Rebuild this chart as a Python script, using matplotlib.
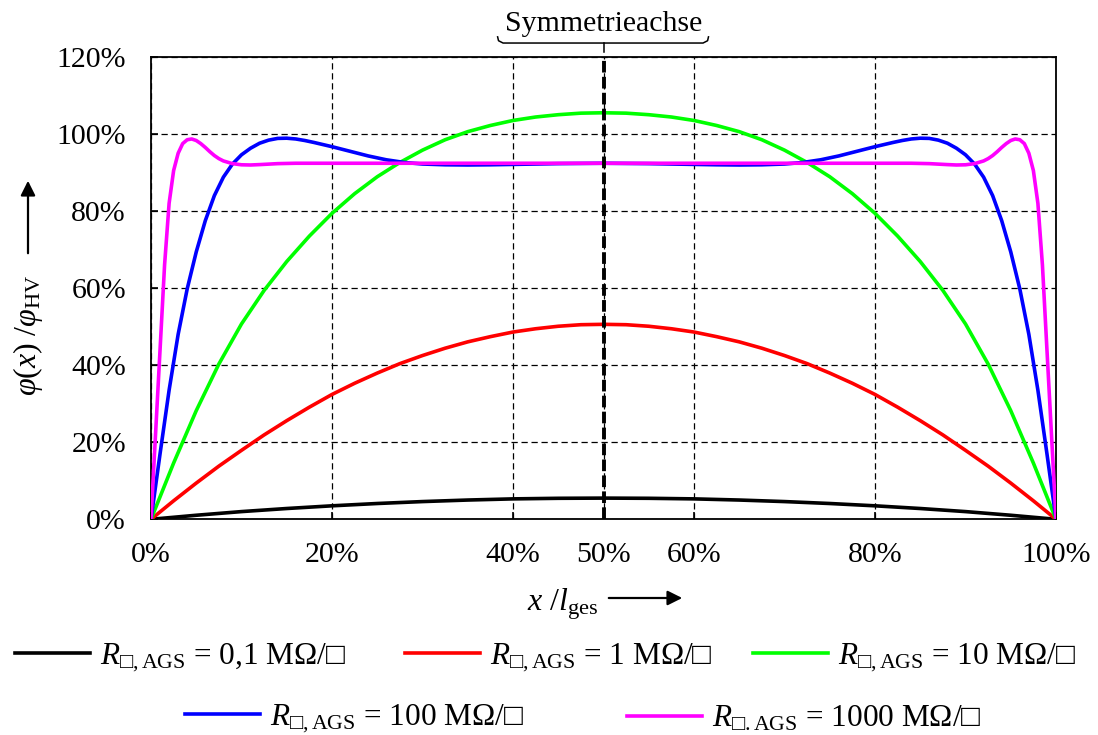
import numpy as np
import matplotlib
matplotlib.use('Agg')
import matplotlib.pyplot as plt

plt.rcParams['font.family'] = ['Liberation Serif', 'DejaVu Sans']
plt.rcParams['mathtext.fontset'] = 'custom'
plt.rcParams['mathtext.rm'] = 'Liberation Serif'
plt.rcParams['mathtext.it'] = 'Liberation Serif:italic'
plt.rcParams['mathtext.bf'] = 'Liberation Serif:bold'
plt.rcParams['mathtext.fallback'] = 'stix'

# Werte (x in %, phi/phi_HV in %)
x_black = [0, 5, 10, 15, 20, 25, 30, 35, 40, 45, 50,
           55, 60, 65, 70, 75, 80, 85, 90, 95, 100]
y_black = [0, 1.05, 2.0, 2.8, 3.5, 4.1, 4.6, 5.0, 5.3, 5.45, 5.5,
           5.45, 5.3, 5.0, 4.6, 4.1, 3.5, 2.8, 2.0, 1.05, 0]

x_red = [0, 2.5, 5, 7.5, 10, 12.5, 15, 17.5, 20, 22.5, 25, 27.5, 30, 32.5, 35, 37.5, 40, 42.5, 45, 47.5, 50,
         52.5, 55, 57.5, 60, 62.5, 65, 67.5, 70, 72.5, 75, 77.5, 80, 82.5, 85, 87.5, 90, 92.5, 95, 97.5, 100]
y_red = [0, 4.8, 9.4, 13.8, 17.9, 21.9, 25.6, 29.1, 32.4, 35.3, 37.95, 40.4, 42.5, 44.4, 46.05, 47.4, 48.6, 49.45, 50.1, 50.5, 50.6,
         50.5, 50.1, 49.45, 48.6, 47.4, 46.05, 44.4, 42.5, 40.4, 37.95, 35.3, 32.4, 29.1, 25.6, 21.9, 17.9, 13.8, 9.4, 4.8, 0]

x_green = x_red
y_green = [0, 14.6, 28.2, 40.3, 50.7, 59.4, 66.9, 73.5, 79.4, 84.5, 88.9, 92.6, 95.8, 98.5, 100.6, 102.2, 103.5, 104.4, 105.0, 105.4, 105.5,
           105.4, 105.0, 104.4, 103.5, 102.2, 100.6, 98.5, 95.8, 92.6, 88.9, 84.5, 79.4, 73.5, 66.9, 59.4, 50.7, 40.3, 28.2, 14.6, 0]

x_blue = [0, 1, 2, 3, 4, 5, 6, 7, 8, 9, 10, 11, 12, 13, 14, 15, 16, 17, 18, 20, 22, 24, 26, 28, 30,
          32.5, 35, 37.5, 40, 42.5, 45, 47.5, 50, 52.5, 55, 57.5, 60, 62.5, 65, 67.5,
          70, 72, 74, 76, 78, 80, 82, 83, 84, 85, 86, 87, 88, 89, 90, 91, 92, 93, 94, 95, 96, 97, 98, 99, 100]
y_blue = [0, 17.0, 33.5, 48.0, 59.8, 69.4, 77.5, 84.0, 88.8, 92.2, 94.6, 96.3, 97.6, 98.4, 98.85, 98.9, 98.7, 98.3, 97.8, 96.7, 95.5, 94.3, 93.3, 92.6, 92.2,
          92.0, 91.95, 92.0, 92.1, 92.2, 92.3, 92.35, 92.4, 92.35, 92.3, 92.2, 92.1, 92.0, 91.95, 92.0,
          92.2, 92.6, 93.3, 94.3, 95.5, 96.7, 97.8, 98.3, 98.7, 98.9, 98.85, 98.4, 97.6, 96.3, 94.6, 92.2, 88.8, 84.0, 77.5, 69.4, 59.8, 48.0, 33.5, 17.0, 0]

x_mag = [0, 0.5, 1, 1.5, 2, 2.5, 3, 3.5, 4, 4.5, 5, 5.5, 6, 6.5, 7, 7.5, 8, 9, 10, 11, 12, 14, 16, 20,
         30, 40, 50, 60, 70, 80, 84, 86, 88, 89, 90, 91, 92, 92.5, 93, 93.5, 94, 94.5, 95, 95.5,
         96, 96.5, 97, 97.5, 98, 98.5, 99, 99.5, 100]
y_mag = [0, 22.0, 44.0, 66.0, 82.0, 90.5, 95.0, 97.5, 98.5, 98.7, 98.3, 97.5, 96.5, 95.4, 94.4, 93.6, 93.0, 92.3, 92.0, 91.95, 92.05, 92.3, 92.4, 92.4,
         92.4, 92.4, 92.4, 92.4, 92.4, 92.4, 92.4, 92.3, 92.05, 91.95, 92.0, 92.3, 93.0, 93.6, 94.4, 95.4, 96.5, 97.5, 98.3, 98.7,
         98.5, 97.5, 95.0, 90.5, 82.0, 66.0, 44.0, 22.0, 0]

series = [
    (x_black, y_black, '#000000', r'$R_{□,\mathrm{AGS}}$ = 0,1 MΩ/□'),
    (x_red, y_red, '#ff0000', r'$R_{□,\mathrm{AGS}}$ = 1 MΩ/□'),
    (x_green, y_green, '#00ff00', r'$R_{□,\mathrm{AGS}}$ = 10 MΩ/□'),
    (x_blue, y_blue, '#0000ff', r'$R_{□,\mathrm{AGS}}$ = 100 MΩ/□'),
    (x_mag, y_mag, '#ff00ff', r'$R_{□.\mathrm{AGS}}$ = 1000 MΩ/□'),
]

x_ticks = [0, 20, 40, 50, 60, 80, 100]
y_ticks = [0, 20, 40, 60, 80, 100, 120]
sym_x = 50

W, H = 1098, 735
fig = plt.figure(figsize=(W / 100, H / 100), dpi=100)
ax = fig.add_axes([151 / W, 1 - 519.3 / H, (1056 - 151) / W, (519.3 - 56.9) / H])

lines = []
for xs, ys, c, lab in series:
    ln, = ax.plot(xs, ys, color=c, lw=2.6, solid_joinstyle='round', zorder=3)
    lines.append(ln)

ax.axvline(sym_x, color='black', lw=2.8, linestyle=(0, (3.0, 1.1)), zorder=4)

ax.set_xlim(0, 100)
ax.set_ylim(0, 120)
ax.set_xticks(x_ticks)
ax.set_xticklabels([f'{v}%' for v in x_ticks])
ax.set_yticks(y_ticks)
ax.set_yticklabels([f'{v}%' for v in y_ticks])
ax.tick_params(direction='in', length=5, width=1.2, labelsize=21.5, colors='black')
ax.tick_params(axis='x', pad=16)
ax.tick_params(axis='y', pad=18)
ax.grid(True, color='black', lw=0.9, linestyle=(0, (5, 3)))
for sp in ax.spines.values():
    sp.set_linewidth(1.3)

# Klammer und Beschriftung der Symmetrieachse
bx = [38.3, 38.4, 38.9, 61.0, 61.5, 61.6]
by = [125.2, 124.2, 123.6, 123.6, 124.2, 125.2]
ax.plot(bx, by, color='black', lw=1.1, clip_on=False)
ax.plot([sym_x, sym_x], [123.6, 121.4], color='black', lw=1.1, clip_on=False)
ax.text(sym_x, 126.8, 'Symmetrieachse', ha='center', va='baseline', fontsize=21.5)

# Achsenbeschriftungen mit Pfeilen
fig.text(28 / W, 1 - 335 / H, r'$\varphi(x)\ /\varphi_{\mathrm{HV}}$', rotation=90,
         ha='center', va='center', fontsize=23)
fig.add_artist(matplotlib.patches.FancyArrowPatch((28 / W, 1 - 256 / H), (28 / W, 1 - 178 / H),
               transform=fig.transFigure, arrowstyle='-|>', mutation_scale=22, lw=1.6, color='black'))
fig.text(598 / W, 1 - 611 / H, r'$x\ /l_{\mathrm{ges}}$', ha='right', va='baseline', fontsize=23)
fig.add_artist(matplotlib.patches.FancyArrowPatch((606 / W, 1 - 598 / H), (685 / W, 1 - 598 / H),
               transform=fig.transFigure, arrowstyle='-|>', mutation_scale=22, lw=1.6, color='black'))

# Legende
leg_pos = [(15, 658), (405, 658), (753, 658), (185, 719), (627, 719)]
leg_fs = 22.5
fs_px = leg_fs * 100 / 72
for ln, (xs, ys, c, lab), (px, py) in zip(lines, series, leg_pos):
    fig.legend(handles=[ln], labels=[lab], loc='center left', bbox_to_anchor=(px / W, 1 - py / H),
               frameon=False, borderpad=0, borderaxespad=0, fontsize=leg_fs,
               handlelength=75 / fs_px, handletextpad=10 / fs_px)

fig.savefig('out.png', dpi=100)
